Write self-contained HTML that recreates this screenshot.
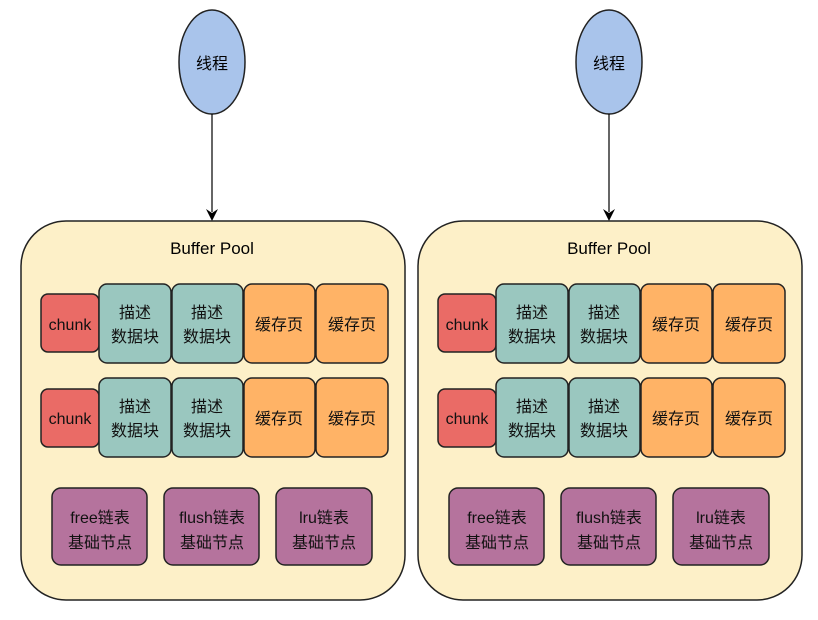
<!DOCTYPE html>
<html><head><meta charset="utf-8"><style>
body{margin:0;width:818px;height:615px;background:#fff;overflow:hidden}
</style></head><body>
<svg width="818" height="615" xmlns="http://www.w3.org/2000/svg" font-family="Liberation Sans, 'Noto Sans CJK SC', sans-serif" font-size="16" text-anchor="middle">
<defs>
<g id="half">
<ellipse cx="212" cy="62" rx="33" ry="52" fill="#a9c4eb" stroke="#222" stroke-width="1.5"/>
<text x="212" y="69">线程</text>
<line x1="212" y1="114" x2="212" y2="212" stroke="#000" stroke-width="1.2"/>
<path d="M206,209 L212,221 L218,209 L212,213 Z" fill="#000"/>
<rect x="21" y="221" width="384" height="379" rx="45" fill="#fdf0c8" stroke="#222" stroke-width="1.5"/>
<text x="212" y="254" font-size="17">Buffer Pool</text>
<g stroke="#222" stroke-width="1.5">
<rect x="41" y="294" width="58" height="58" rx="7" fill="#ea6b66"/>
<rect x="99" y="284" width="72" height="79" rx="8" fill="#9ac7bf"/>
<rect x="172" y="284" width="71" height="79" rx="8" fill="#9ac7bf"/>
<rect x="244" y="284" width="71" height="79" rx="8" fill="#ffb366"/>
<rect x="316" y="284" width="72" height="79" rx="8" fill="#ffb366"/>
<rect x="41" y="389" width="58" height="58" rx="7" fill="#ea6b66"/>
<rect x="99" y="378" width="72" height="79" rx="8" fill="#9ac7bf"/>
<rect x="172" y="378" width="71" height="79" rx="8" fill="#9ac7bf"/>
<rect x="244" y="378" width="71" height="79" rx="8" fill="#ffb366"/>
<rect x="316" y="378" width="72" height="79" rx="8" fill="#ffb366"/>
<rect x="52" y="488" width="95" height="77" rx="9" fill="#b5739d"/>
<rect x="164" y="488" width="95" height="77" rx="9" fill="#b5739d"/>
<rect x="276" y="488" width="96" height="77" rx="9" fill="#b5739d"/>
</g>
<g fill="#111">
<text x="70" y="330">chunk</text>
<text x="135" y="318">描述</text><text x="135" y="342">数据块</text>
<text x="207" y="318">描述</text><text x="207" y="342">数据块</text>
<text x="279" y="330">缓存页</text><text x="352" y="330">缓存页</text>
<text x="70" y="424">chunk</text>
<text x="135" y="412">描述</text><text x="135" y="436">数据块</text>
<text x="207" y="412">描述</text><text x="207" y="436">数据块</text>
<text x="279" y="424">缓存页</text><text x="352" y="424">缓存页</text>
<text x="100" y="523">free链表</text><text x="100" y="548">基础节点</text>
<text x="212" y="523">flush链表</text><text x="212" y="548">基础节点</text>
<text x="324" y="523">lru链表</text><text x="324" y="548">基础节点</text>
</g>
</g>
</defs>
<use href="#half"/>
<use href="#half" x="397"/>
</svg>
</body></html>
